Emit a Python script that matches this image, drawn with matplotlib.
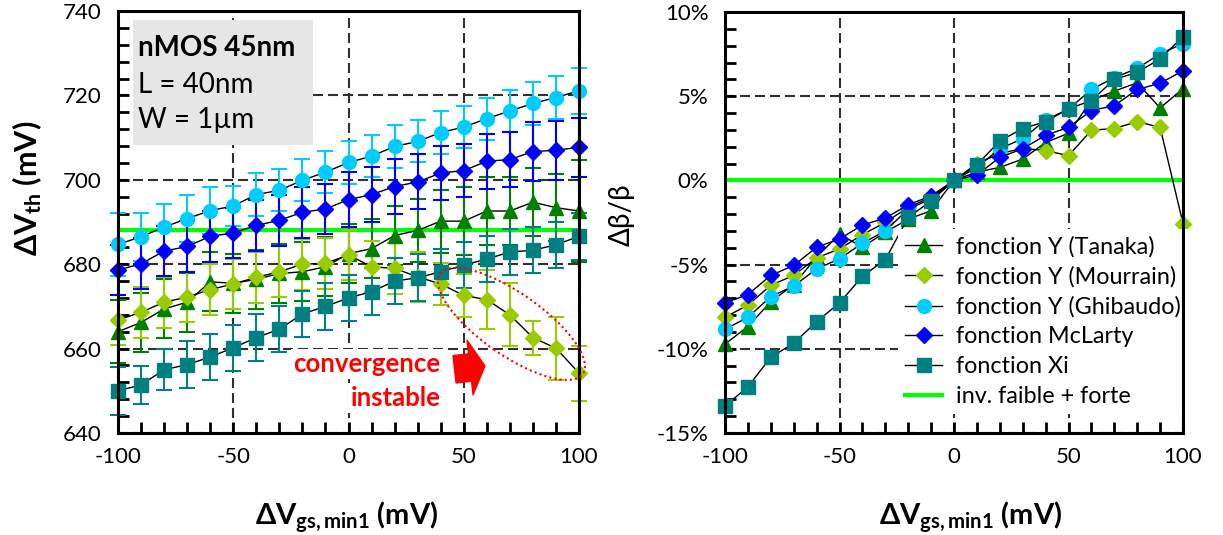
import matplotlib

matplotlib.use("Agg")
import matplotlib.pyplot as plt
from matplotlib.patches import Ellipse, Rectangle
from matplotlib.ticker import MultipleLocator, FixedLocator, FuncFormatter

plt.rcParams["font.family"] = ["Lato", "DejaVu Sans"]
plt.rcParams["axes.unicode_minus"] = False
plt.rcParams["mathtext.fontset"] = "custom"
plt.rcParams["mathtext.rm"] = "Lato"
plt.rcParams["mathtext.bf"] = "Lato:bold"
plt.rcParams["mathtext.it"] = "Lato:italic"

# abscisse commune (mV)
dvgs = [-100, -90, -80, -70, -60, -50, -40, -30, -20, -10, 0,
        10, 20, 30, 40, 50, 60, 70, 80, 90, 100]

# graphe de gauche : delta Vth (mV)
vth_tanaka = [664.0, 666.2, 669.4, 671.0, 675.8, 675.5, 676.4, 677.8, 678.2, 679.4, 682.5,
              683.7, 686.8, 688.0, 690.2, 690.2, 692.6, 692.6, 694.7, 693.4, 692.6]
vth_mourrain = [666.8, 668.6, 671.0, 672.2, 674.0, 675.3, 676.9, 678.2, 680.0, 680.2, 682.2,
                679.4, 679.0, 677.0, 675.3, 672.6, 671.6, 668.0, 662.6, 660.1, 654.2]
vth_ghibaudo = [684.7, 686.5, 688.8, 690.8, 692.7, 693.8, 696.5, 697.5, 699.9, 701.8, 704.1,
                705.6, 707.9, 709.1, 711.2, 712.5, 714.5, 716.3, 718.1, 719.5, 721.1]
vth_mclarty = [678.6, 680.1, 683.1, 684.2, 686.6, 687.4, 689.2, 690.4, 692.3, 693.1, 695.3,
               696.5, 698.4, 699.5, 701.6, 702.2, 704.4, 704.8, 706.7, 707.0, 707.7]
vth_xi = [650.0, 651.4, 655.0, 656.2, 658.0, 660.2, 662.6, 664.6, 668.2, 670.0, 672.0,
          673.5, 676.0, 676.8, 678.2, 679.8, 681.2, 682.9, 683.3, 684.6, 686.6]

err_tanaka = [7.5, 7, 7, 7, 7, 7, 7, 7, 7, 7, 7, 7, 7, 7.5, 7.5, 8, 8, 8, 8, 8, 12]
err_mourrain = [6, 6, 6, 6, 6, 6, 6, 6, 6, 6, 6, 6, 6, 6, 5, 5, 7, 7.5, 4, 7.5, 6.5]
err_ghibaudo = [7.5, 5.7, 5.5, 5.5, 5.5, 4.8, 5, 5, 5, 5, 5, 5, 5, 5, 5, 5, 5, 5, 5, 5.2, 5.4]
err_mclarty = [6, 6, 6, 6, 6, 6, 6, 6, 6, 6, 6.5, 6.5, 6.5, 6.5, 6.5, 6.3, 6.5, 6.5, 7, 7, 7]
err_xi = [5.7, 4.5, 4.8, 5.5, 5.5, 5.5, 5.5, 5.5, 5.5, 5.5, 5.5, 5.5, 5.5, 5.5, 5.5, 5.5,
          5.5, 5.5, 5.5, 5.5, 5.5]

vth_ref = 688.0  # inv. faible + forte

# graphe de droite : delta beta / beta (%)
db_tanaka = [-9.72, -8.68, -7.2, -6.2, -4.55, -3.2, -3.96, -3.08, -2.3, -1.8, 0.0,
             0.5, 0.77, 1.27, 2.25, 2.8, 4.75, 5.3, 5.8, 4.3, 5.45]
db_mourrain = [-8.13, -7.4, -6.23, -5.64, -4.6, -4.07, -3.22, -2.5, -1.6, -1.0, 0.0,
               1.0, 1.6, 1.9, 1.77, 1.47, 2.98, 3.08, 3.49, 3.15, -2.56]
db_ghibaudo = [-8.84, -8.13, -6.9, -6.27, -5.25, -4.66, -3.73, -3.0, -1.7, -1.1, 0.0,
               0.77, 1.88, 2.48, 3.59, 4.23, 5.4, 6.1, 6.65, 7.52, 8.12]
db_mclarty = [-7.27, -6.78, -5.64, -5.05, -3.97, -3.48, -2.65, -2.24, -1.45, -0.92, 0.0,
              0.32, 1.37, 1.88, 2.68, 3.15, 4.15, 4.44, 5.4, 5.77, 6.51]
db_xi = [-13.4, -12.26, -10.5, -9.67, -8.39, -7.27, -5.7, -4.7, -2.2, -1.22, 0.0,
         0.93, 2.34, 3.08, 3.49, 4.25, 4.74, 6.0, 6.41, 7.22, 8.53]

db_ref = 0.0

labels = ["fonction Y (Tanaka)", "fonction Y (Mourrain)", "fonction Y (Ghibaudo)",
          "fonction McLarty", "fonction Xi"]
colors = ["#008000", "#99cc00", "#00ccff", "#0000ff", "#008080"]
markers = ["^", "D", "o", "D", "s"]
msizes = [10.5, 8, 10, 8, 9.5]
green = "#00ff00"

fig = plt.figure(figsize=(12.23, 5.35), dpi=100)
ax1 = fig.add_axes([118 / 1223, 102 / 535, 461 / 1223, 422 / 535])
ax2 = fig.add_axes([725 / 1223, 102 / 535, 458 / 1223, 421 / 535])

for ax in (ax1, ax2):
    ax.set_axisbelow(True)
    ax.grid(True, which="major", ls=(0, (4.8, 2.4)), color="#303030", lw=1.5)
    ax.set_xlim(-100, 100)
    ax.xaxis.set_major_locator(FixedLocator([-100, -50, 0, 50, 100]))
    ax.xaxis.set_minor_locator(MultipleLocator(10))
    ax.tick_params(which="both", direction="in", length=8, width=2,
                   labelsize=16, top=False, right=False)
    ax.tick_params(axis="x", pad=10)
    ax.tick_params(axis="y", pad=12)
    for sp in ax.spines.values():
        sp.set_linewidth(2.2)
        sp.set_zorder(6)

# ---- gauche ----
ax1.set_ylim(640, 740)
ax1.yaxis.set_major_locator(MultipleLocator(20))
ax1.yaxis.set_minor_locator(MultipleLocator(4))
ax1.axhline(vth_ref, color=green, lw=3, zorder=1.8)

left_series = [vth_tanaka, vth_mourrain, vth_ghibaudo, vth_mclarty, vth_xi]
left_err = [err_tanaka, err_mourrain, err_ghibaudo, err_mclarty, err_xi]
for y, e, c, m, s in zip(left_series, left_err, colors, markers, msizes):
    eb = ax1.errorbar(dvgs, y, yerr=e, color="k", lw=1, marker=m, ms=s, mfc=c, mec=c,
                      ecolor=c, elinewidth=1.5, capsize=5.5, capthick=1.5, zorder=3)
    for art in eb.get_children():
        art.set_clip_on(False)

ax1.add_patch(Rectangle((0.0325, 0.6825), 0.3905, 0.296, transform=ax1.transAxes,
                        facecolor="#e6e6e6", edgecolor="none", zorder=1))
ax1.text(0.043, 0.912, "nMOS 45nm", transform=ax1.transAxes, fontsize=20,
         fontweight="bold", va="center", ha="left", zorder=5)
ax1.text(0.043, 0.825, "L = 40nm", transform=ax1.transAxes, fontsize=20,
         va="center", ha="left", zorder=5)
ax1.text(0.043, 0.742, "W = 1µm", transform=ax1.transAxes, fontsize=20,
         va="center", ha="left", zorder=5)

ax1.text(40, 656.4, "convergence", color="red", fontsize=18.5, fontweight="bold",
         ha="right", va="center", zorder=1.2,
         bbox=dict(facecolor="white", edgecolor="none", pad=2))
ax1.text(40, 648.3, "instable", color="red", fontsize=18.5, fontweight="bold",
         ha="right", va="center", zorder=1.2,
         bbox=dict(facecolor="white", edgecolor="none", pad=2))
ax1.annotate("", xy=(59.2, 655.9), xytext=(46.0, 655.1),
             arrowprops=dict(arrowstyle="simple,head_length=0.36,head_width=1.32,tail_width=0.66",
                             fc="red", ec="red", shrinkA=0, shrinkB=0, mutation_scale=30),
             zorder=4)
fig.add_artist(Ellipse((5.115, 2.11), 1.74, 0.62, angle=-35, transform=fig.dpi_scale_trans,
                       fill=False, ec="red", ls=(0, (1, 1.5)), lw=1.5))

ax1.set_xlabel("ΔV$_{\\mathbf{gs,min1}}$ (mV)", fontsize=21, fontweight="bold")
ax1.xaxis.set_label_coords(0.496, -0.2)
ax1.xaxis.label.set_va("center")
ax1.set_ylabel("ΔV$_{\\mathbf{th}}$ (mV)", fontsize=22, fontweight="bold")
ax1.yaxis.set_label_coords(-0.197, 0.58)
ax1.yaxis.label.set_va("center")
ax1.yaxis.label.set_ha("center")

# ---- droite ----
ax2.set_ylim(-15, 10)
ax2.yaxis.set_major_locator(MultipleLocator(5))
ax2.yaxis.set_minor_locator(MultipleLocator(1))
ax2.yaxis.set_major_formatter(FuncFormatter(lambda v, p: f"{int(round(v))}%"))
ref_line = ax2.axhline(db_ref, color=green, lw=3, zorder=1.8, label="inv. faible + forte")

right_series = [db_tanaka, db_mourrain, db_ghibaudo, db_mclarty, db_xi]
handles = []
for y, c, m, s, lab in zip(right_series, colors, markers, msizes, labels):
    h, = ax2.plot(dvgs, y, color="k", lw=1, marker=m, ms=s, mfc=c, mec=c,
                  label=lab, zorder=3, clip_on=False)
    handles.append(h)
handles.append(ref_line)

leg = ax2.legend(handles=handles, loc="upper left", bbox_to_anchor=(0.378, 0.4846),
                 fontsize=16.8, frameon=True, facecolor="white", edgecolor="none",
                 framealpha=1, fancybox=False, borderpad=0.3, labelspacing=0.37,
                 handlelength=1.6, handletextpad=0.6, borderaxespad=0)
leg.set_zorder(5)

ax2.set_xlabel("ΔV$_{\\mathbf{gs,min1}}$ (mV)", fontsize=21, fontweight="bold")
ax2.xaxis.set_label_coords(0.536, -0.2)
ax2.xaxis.label.set_va("center")
ax2.set_ylabel("Δβ/β", fontsize=20)
ax2.yaxis.set_label_coords(-0.2255, 0.5175)
ax2.yaxis.label.set_va("center")
ax2.yaxis.label.set_ha("center")

fig.savefig("out.png", dpi=100)
